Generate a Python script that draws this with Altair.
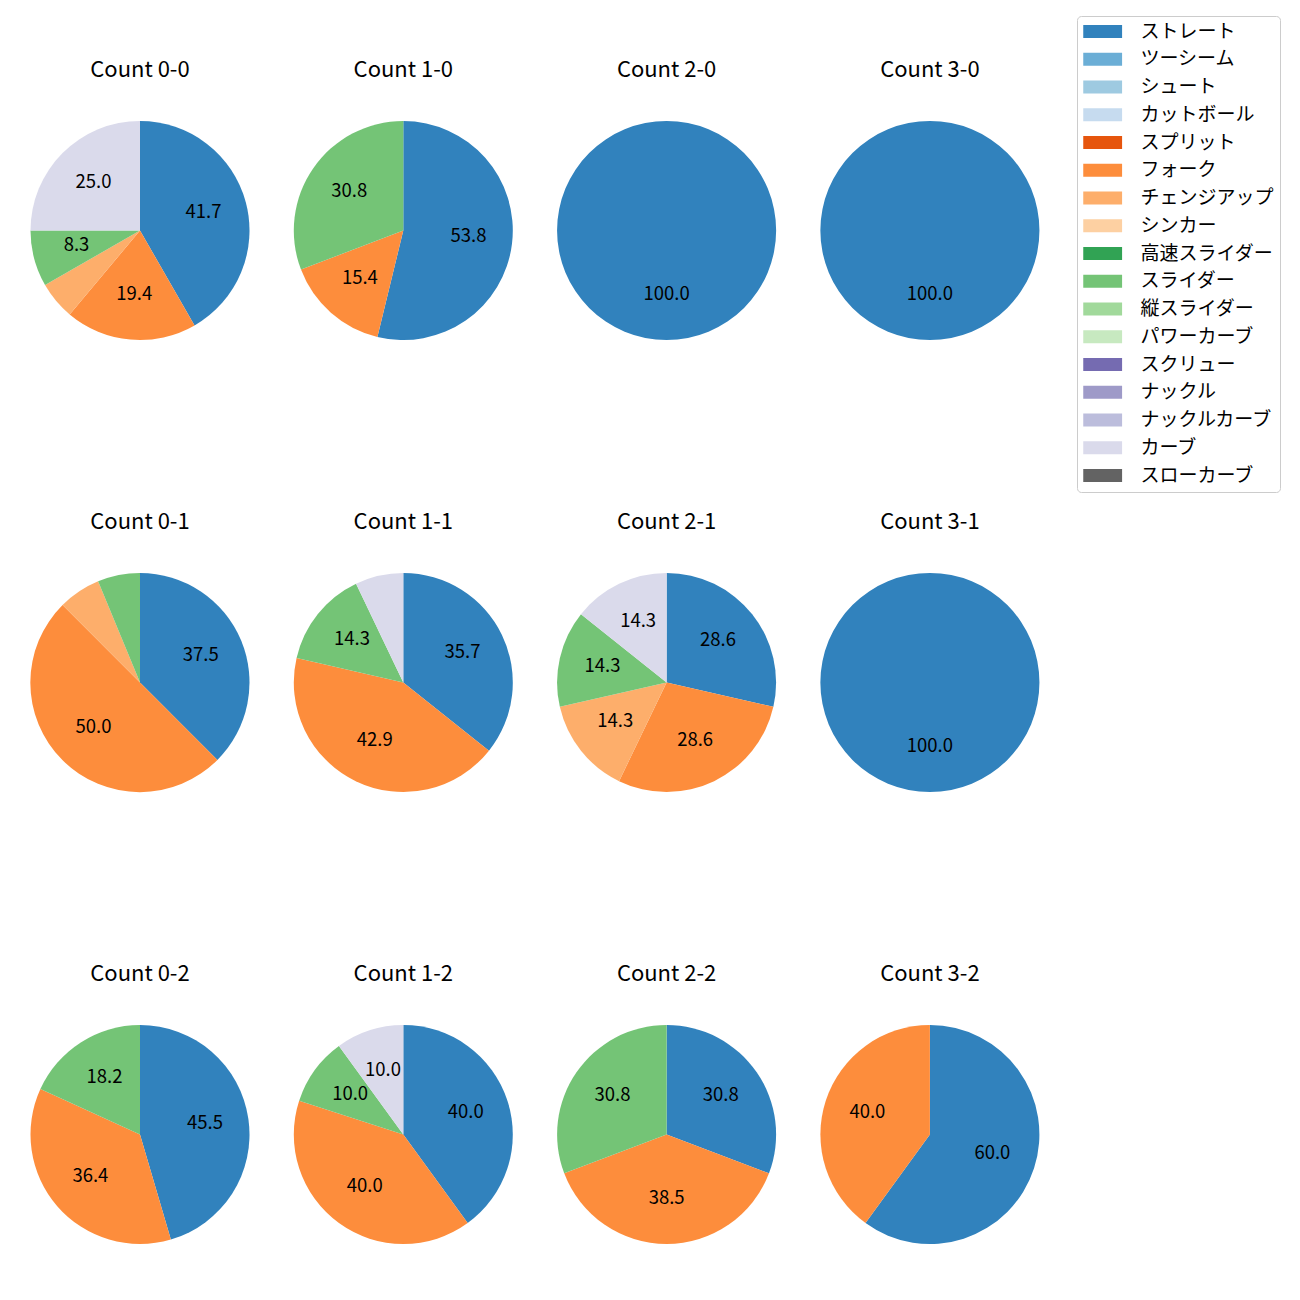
import altair as alt
import pandas as pd

FONT = "Noto Sans CJK JP"

pitch_types = ["ストレート", "ツーシーム", "シュート", "カットボール", "スプリット", "フォーク",
               "チェンジアップ", "シンカー", "高速スライダー", "スライダー", "縦スライダー",
               "パワーカーブ", "スクリュー", "ナックル", "ナックルカーブ", "カーブ", "スローカーブ"]
pitch_colors = ["#3182bd", "#6baed6", "#9ecae1", "#c6dbef", "#e6550d", "#fd8d3c",
                "#fdae6b", "#fdd0a2", "#31a354", "#74c476", "#a1d99b", "#c7e9c0",
                "#756bb1", "#9e9ac8", "#bcbddc", "#dadaeb", "#636363"]

# panels: row = strikes, column = balls
panel_counts = [["0-0", "1-0", "2-0", "3-0"],
                ["0-1", "1-1", "2-1", "3-1"],
                ["0-2", "1-2", "2-2", "3-2"]]

types_00 = ["ストレート", "フォーク", "チェンジアップ", "スライダー", "カーブ"]
pct_00 = [41.7, 19.4, 5.6, 8.3, 25.0]
types_10 = ["ストレート", "フォーク", "スライダー"]
pct_10 = [53.8, 15.4, 30.8]
types_20 = ["ストレート"]
pct_20 = [100.0]
types_30 = ["ストレート"]
pct_30 = [100.0]
types_01 = ["ストレート", "フォーク", "チェンジアップ", "スライダー"]
pct_01 = [37.5, 50.0, 6.25, 6.25]
types_11 = ["ストレート", "フォーク", "スライダー", "カーブ"]
pct_11 = [35.7, 42.9, 14.3, 7.1]
types_21 = ["ストレート", "フォーク", "チェンジアップ", "スライダー", "カーブ"]
pct_21 = [28.6, 28.6, 14.3, 14.3, 14.3]
types_31 = ["ストレート"]
pct_31 = [100.0]
types_02 = ["ストレート", "フォーク", "スライダー"]
pct_02 = [45.5, 36.4, 18.2]
types_12 = ["ストレート", "フォーク", "スライダー", "カーブ"]
pct_12 = [40.0, 40.0, 10.0, 10.0]
types_22 = ["ストレート", "フォーク", "スライダー"]
pct_22 = [30.8, 38.5, 30.8]
types_32 = ["ストレート", "フォーク"]
pct_32 = [60.0, 40.0]

panel_data = {
    "0-0": (types_00, pct_00), "1-0": (types_10, pct_10), "2-0": (types_20, pct_20),
    "3-0": (types_30, pct_30), "0-1": (types_01, pct_01), "1-1": (types_11, pct_11),
    "2-1": (types_21, pct_21), "3-1": (types_31, pct_31), "0-2": (types_02, pct_02),
    "1-2": (types_12, pct_12), "2-2": (types_22, pct_22), "3-2": (types_32, pct_32),
}

rows = []
for cnt, (types, vals) in panel_data.items():
    total = sum(vals)
    for t, v in zip(types, vals):
        p = v / total * 100
        rows.append({"count": cnt, "type": t, "pct": v,
                     "idx": pitch_types.index(t),
                     "label": f"{p:.1f}" if p >= 8 else ""})
df = pd.DataFrame(rows)

R = 109.5
SIZE = 2 * R

color = alt.Color(
    "type:N",
    scale=alt.Scale(domain=pitch_types, range=pitch_colors),
    legend=alt.Legend(
        title=None, orient="none", legendX=1046.5, legendY=-105,
        labelFont=FONT, labelFontSize=19, labelColor="#000000",
        symbolType="M-1,-0.7H3.2V0.7H-1Z", symbolSize=342,
        symbolStrokeWidth=0, symbolOpacity=1,
        labelOffset=38.5, rowPadding=7.75, padding=6,
        strokeColor="#cccccc", fillColor="#ffffff", cornerRadius=4,
        values=pitch_types,
    ),
)


def panel(cnt):
    base = alt.Chart(df).transform_filter(alt.datum["count"] == cnt).encode(
        theta=alt.Theta("pct:Q", stack="normalize"),
        order=alt.Order("idx:Q", sort="ascending"),
    )
    arcs = base.mark_arc(outerRadius=R).encode(color=color)
    texts = base.mark_text(radius=0.6 * R, font=FONT, fontSize=18.5, dy=-2,
                           color="#000000", align="center", baseline="middle").encode(
        text="label:N")
    return alt.layer(arcs, texts).properties(
        width=SIZE, height=SIZE,
        title=alt.TitleParams(f"Count {cnt}", font=FONT, fontSize=22,
                              fontWeight="normal", color="#000000",
                              anchor="middle", baseline="alphabetic", offset=22),
    )


grid = alt.vconcat(
    *[alt.hconcat(*[panel(c) for c in row], spacing=44.3) for row in panel_counts],
    spacing=171,
).resolve_scale(theta="independent").properties(
    padding={"left": 22.5, "top": 7, "right": 5, "bottom": 5}
).configure_view(stroke=None)

grid.save("out.html", embed_options={"renderer": "svg", "actions": False})
